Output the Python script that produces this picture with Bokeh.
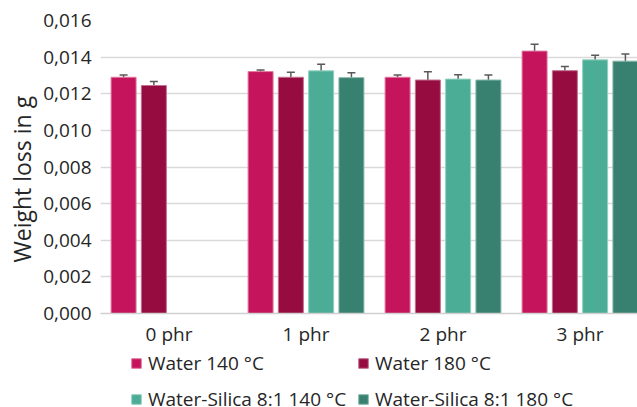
from bokeh.plotting import figure
from bokeh.layouts import column
from bokeh.models import (ColumnDataSource, Range1d, FixedTicker, Whisker, TeeHead,
                          Legend, LegendItem, Title)
from bokeh.embed import file_html
from bokeh.resources import INLINE

categories = ["0 phr", "1 phr", "2 phr", "3 phr"]
series_names = ["Water 140 °C", "Water 180 °C", "Water-Silica 8:1 140 °C", "Water-Silica 8:1 180 °C"]
water_140 = [0.01290, 0.01321, 0.01290, 0.01433]
water_180 = [0.01245, 0.01290, 0.01275, 0.01326]
ws_140 = [None, 0.01325, 0.01280, 0.01385]
ws_180 = [None, 0.01288, 0.01275, 0.01378]
err_water_140 = [0.00013, 0.00009, 0.00013, 0.00037]
err_water_180 = [0.00022, 0.00027, 0.00045, 0.00023]
err_ws_140 = [None, 0.00036, 0.00024, 0.00025]
err_ws_180 = [None, 0.00026, 0.00027, 0.00039]
y_ticks = [0.000, 0.002, 0.004, 0.006, 0.008, 0.010, 0.012, 0.014, 0.016]

colors = ["#C5135C", "#960C41", "#4BAD96", "#388170"]
edge_colors = ["#E07AA0", "#C27090", "#92D0C0", "#88B8AC"]
values = [water_140, water_180, ws_140, ws_180]
errors = [err_water_140, err_water_180, err_ws_140, err_ws_180]

FONT = "Open Sans"
TXT = "#262626"

p = figure(width=637, height=349, output_backend="svg", toolbar_location=None,
           x_range=Range1d(-0.5, -0.5 + 537 / 137), y_range=Range1d(0, 0.016))
p.min_border_left = 100
p.min_border_right = 0
p.min_border_top = 20
p.min_border_bottom = 36
p.outline_line_color = None
p.background_fill_color = "white"
p.border_fill_color = "white"

# legend figure (its own y range keeps the linked bars out of view)
q = figure(width=637, height=58, output_backend="svg", toolbar_location=None,
           x_range=Range1d(0, 1), y_range=Range1d(1, 2),
           x_axis_type=None, y_axis_type=None)
q.min_border_left = 0
q.min_border_right = 0
q.min_border_top = 0
q.min_border_bottom = 0
q.outline_line_color = None
q.xgrid.visible = False
q.ygrid.visible = False
q.background_fill_color = "white"
q.border_fill_color = "white"

pitch = 0.221
bar_w = 0.1825
offsets = [-1.5, -0.5, 0.5, 1.5]

items = []
for s in range(4):
    xs, tops, lo, hi = [], [], [], []
    for i in range(len(categories)):
        v = values[s][i]
        if v is None:
            continue
        xs.append(i + offsets[s] * pitch)
        tops.append(v)
        lo.append(v - errors[s][i])
        hi.append(v + errors[s][i])
    src = ColumnDataSource(dict(x=xs, top=tops, lower=lo, upper=hi))
    p.vbar(x="x", top="top", width=bar_w, source=src, fill_color=colors[s],
           line_color=edge_colors[s], line_width=1)
    w = Whisker(base="x", upper="upper", lower="lower", source=src,
                line_color="#595959", line_width=1.5,
                upper_head=TeeHead(size=8, line_color="#595959", line_width=1.5),
                lower_head=TeeHead(size=8, line_color="#595959", line_width=1.5))
    p.add_layout(w)
    r = q.vbar(x="x", top="top", width=bar_w, source=src, fill_color=colors[s],
               line_color=edge_colors[s], line_width=1)
    items.append(LegendItem(label=series_names[s], renderers=[r]))

# axes
p.xaxis.ticker = FixedTicker(ticks=list(range(len(categories))))
p.xaxis.major_label_overrides = {i: c for i, c in enumerate(categories)}
p.xaxis.major_tick_line_color = None
p.xaxis.major_tick_out = 0
p.xaxis.major_tick_in = 0
p.xaxis.minor_tick_line_color = None
p.xaxis.axis_line_color = "#D0D0D0"
p.xaxis.axis_line_width = 1.5
p.xaxis.major_label_standoff = 7
p.xaxis.major_label_text_font = FONT
p.xaxis.major_label_text_font_size = "19px"
p.xaxis.major_label_text_color = TXT

p.yaxis.ticker = FixedTicker(ticks=y_ticks)
p.yaxis.major_label_overrides = {t: f"{t:.3f}".replace(".", ",") for t in y_ticks}
p.yaxis.major_tick_line_color = None
p.yaxis.major_tick_out = 0
p.yaxis.major_tick_in = 0
p.yaxis.minor_tick_line_color = None
p.yaxis.axis_line_color = None
p.yaxis.major_label_standoff = 9
p.yaxis.major_label_text_font = FONT
p.yaxis.major_label_text_font_size = "19px"
p.yaxis.major_label_text_color = TXT

ytitle = Title(text="Weight loss in g", align="left", offset=51,
               text_font=FONT, text_font_size="23px", text_font_style="normal",
               text_color=TXT, standoff=5)
p.add_layout(ytitle, "left")

p.xgrid.grid_line_color = None
p.ygrid.grid_line_color = "#D9D9D9"
p.ygrid.grid_line_width = 1.5

legend = Legend(items=items, location=(30, -6), ncols=2, orientation="horizontal")
legend.glyph_width = 12
legend.glyph_height = 12
legend.label_standoff = 6
legend.label_width = 201
legend.label_height = 28
legend.spacing = 8
legend.padding = 0
legend.margin = 0
legend.border_line_color = None
legend.background_fill_alpha = 0
legend.label_text_font = FONT
legend.label_text_font_size = "19px"
legend.label_text_color = TXT
q.add_layout(legend, "center")

layout = column(p, q, spacing=0)
open("out.html", "w").write(file_html(layout, INLINE))
